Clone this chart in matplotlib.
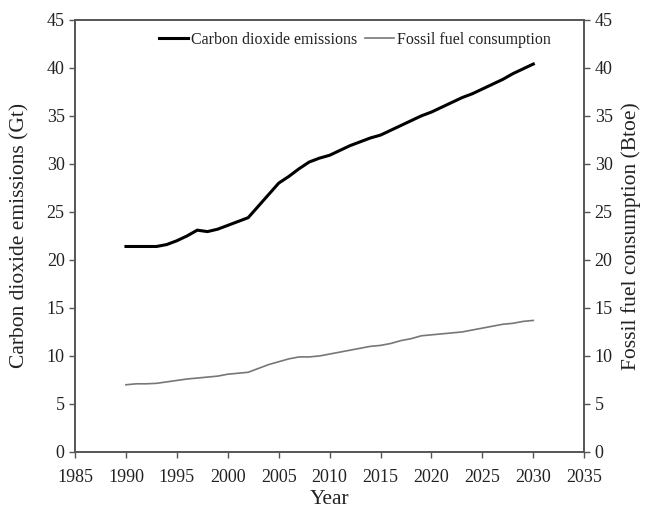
import numpy as np
from matplotlib import pyplot as plt

plt.rcParams["font.family"] = ["Liberation Serif", "DejaVu Serif"]

years = np.arange(1990, 2031)
co2 = [21.4, 21.4, 21.4, 21.4, 21.6, 22.0, 22.5, 23.1, 22.95, 23.2,
       23.6, 24.0, 24.4, 25.6, 26.8, 28.0, 28.7, 29.5, 30.2, 30.6,
       30.9, 31.4, 31.9, 32.3, 32.7, 33.0, 33.5, 34.0, 34.5, 35.0,
       35.4, 35.9, 36.4, 36.9, 37.3, 37.8, 38.3, 38.8, 39.4, 39.9,
       40.4]
fossil = [7.0, 7.1, 7.1, 7.15, 7.3, 7.45, 7.6, 7.7, 7.8, 7.9,
          8.1, 8.2, 8.3, 8.7, 9.1, 9.4, 9.7, 9.9, 9.9, 10.0,
          10.2, 10.4, 10.6, 10.8, 11.0, 11.1, 11.3, 11.6, 11.8, 12.1,
          12.2, 12.3, 12.4, 12.5, 12.7, 12.9, 13.1, 13.3, 13.4, 13.6,
          13.7]

fig = plt.figure(figsize=(6.47, 5.09), dpi=100)
ax = fig.add_axes([0.116, 0.112, 0.787, 0.849])
ax2 = ax.twinx()

l1, = ax.plot(years, co2, color="black", lw=2.2, label="Carbon dioxide emissions")
l2, = ax2.plot(years, fossil, color="#777777", lw=1.2, label="Fossil fuel consumption")

txt = "#222222"
spine = "#555555"
for a in (ax, ax2):
    a.set_ylim(0, 45)
    a.set_yticks(np.arange(0, 46, 5))
    a.tick_params(direction="out", length=4, width=1, color=spine,
                  labelsize=13, labelcolor=txt)
    for s in a.spines.values():
        s.set_color(spine)
        s.set_linewidth(1.2)

ax.set_xlim(1985, 2035)
ax.set_xticks(np.arange(1985, 2036, 5))
ax.tick_params(axis="x", pad=8)

ax.set_xlabel("Year", fontsize=15.5, color=txt, labelpad=3)
ax.set_ylabel("Carbon dioxide emissions (Gt)", fontsize=15.5, color=txt, labelpad=12)
ax2.set_ylabel("Fossil fuel consumption (Btoe)", fontsize=15.5, color=txt, labelpad=6)

ax.legend(handles=[l1, l2], loc="upper center", bbox_to_anchor=(0.55, 1.005),
          ncol=2, frameon=False, fontsize=11.5, handlelength=1.8,
          handletextpad=0.2, columnspacing=0.5, labelcolor=txt)

fig.savefig("out.png", dpi=100)
